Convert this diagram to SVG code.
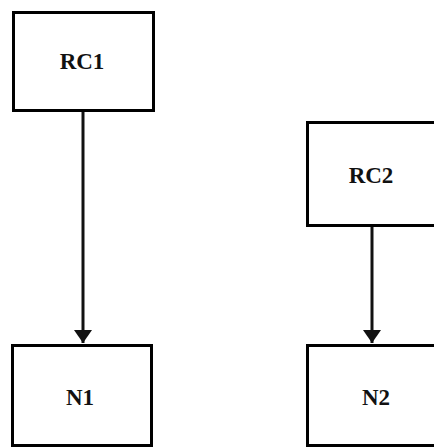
<svg xmlns="http://www.w3.org/2000/svg" width="434" height="447" viewBox="0 0 434 447">
<style>
.box{fill:#fff;stroke:#000;stroke-width:3}
.lbl{font-family:"Liberation Serif","DejaVu Serif",serif;font-weight:bold;font-size:23px;fill:#111;text-anchor:middle}
.conn{stroke:#111;stroke-width:3;fill:none}
</style>
<defs>
<marker id="ah" markerUnits="userSpaceOnUse" markerWidth="20" markerHeight="20" refX="18" refY="9" orient="auto">
<path d="M5,0 L18,9 L5,18 Z" fill="#111"/>
</marker>
</defs>
<rect width="434" height="447" fill="#fff"/>
<g id="connectors">
<line class="conn" x1="83" y1="111" x2="83" y2="343" marker-end="url(#ah)"/>
<line class="conn" x1="372" y1="226" x2="372" y2="343" marker-end="url(#ah)"/>
</g>
<g id="RC1">
<rect class="box" x="13.5" y="12.5" width="140" height="98"/>
<text class="lbl" x="82" y="69">RC1</text>
</g>
<g id="RC2">
<rect class="box" x="307.5" y="122.5" width="140" height="103"/>
<text class="lbl" x="371" y="183">RC2</text>
</g>
<g id="N1">
<rect class="box" x="12.5" y="345.5" width="139" height="100"/>
<text class="lbl" x="80" y="405">N1</text>
</g>
<g id="N2">
<rect class="box" x="307.5" y="345.5" width="140" height="100"/>
<text class="lbl" x="376" y="405">N2</text>
</g>
</svg>
